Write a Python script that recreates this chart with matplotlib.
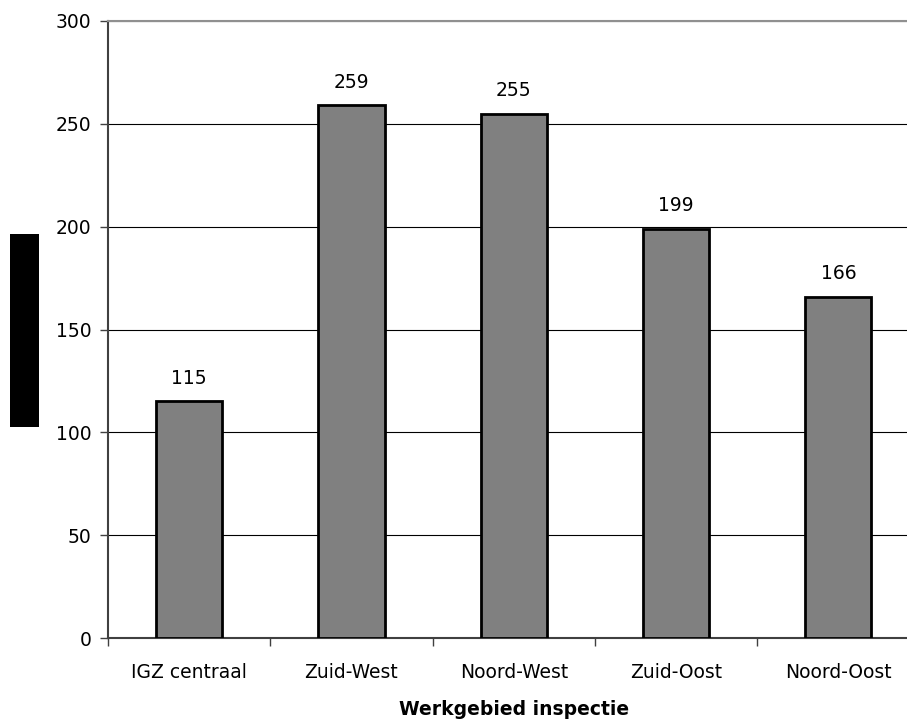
import matplotlib
matplotlib.use("Agg")
import matplotlib.pyplot as plt
from matplotlib.patches import Rectangle

categories = ["IGZ centraal", "Zuid-West", "Noord-West", "Zuid-Oost", "Noord-Oost"]
values = [115, 259, 255, 199, 166]
y_ticks = [0, 50, 100, 150, 200, 250, 300]

plt.rcParams["font.family"] = ["DejaVu Sans"]

W, H = 907, 727
fig = plt.figure(figsize=(W / 100, H / 100), dpi=100)

# axes spans past the right edge of the canvas
left, right, top, bottom = 108, 919.6, 21, 638
ax = fig.add_axes([left / W, 1 - bottom / H, (right - left) / W, (bottom - top) / H])

x = list(range(len(categories)))
bars = ax.bar(x, values, width=0.407, color="#808080", edgecolor="black",
              linewidth=2, zorder=3)
for xi, v in zip(x, values):
    ax.annotate(str(v), (xi, v), xytext=(0, 12.5), textcoords="offset points",
                ha="center", va="baseline", fontsize=13.5)

ax.set_xlim(-0.5, len(categories) - 0.5)
ax.set_ylim(0, 300)
ax.set_yticks(y_ticks)
ax.yaxis.grid(True, color="black", linewidth=0.8, zorder=0)
ax.tick_params(axis="y", labelsize=13.5, length=6, width=1, color="#404040", pad=6)

ax.set_xticks(x)
ax.set_xticklabels(categories, fontsize=13.5)
ax.tick_params(axis="x", length=0, pad=18)
ax.set_xticks([i + 0.5 for i in x[:-1]] + [-0.5], minor=True)
ax.tick_params(axis="x", which="minor", length=6, width=1, color="#404040")

for side in ("left", "bottom"):
    ax.spines[side].set_color("#404040")
    ax.spines[side].set_linewidth(1.5)
ax.spines["top"].set_color("#909090")
ax.spines["top"].set_linewidth(1.5)
ax.spines["right"].set_visible(False)

ax.set_xlabel("Werkgebied inspectie", fontsize=13.5, fontweight="bold", labelpad=13)

# masked y-axis title block
fig.patches.append(Rectangle((10 / W, 1 - 427 / H), 29 / W, 193 / H,
                             transform=fig.transFigure, facecolor="black",
                             edgecolor="none"))

fig.savefig("out.png", dpi=100)
